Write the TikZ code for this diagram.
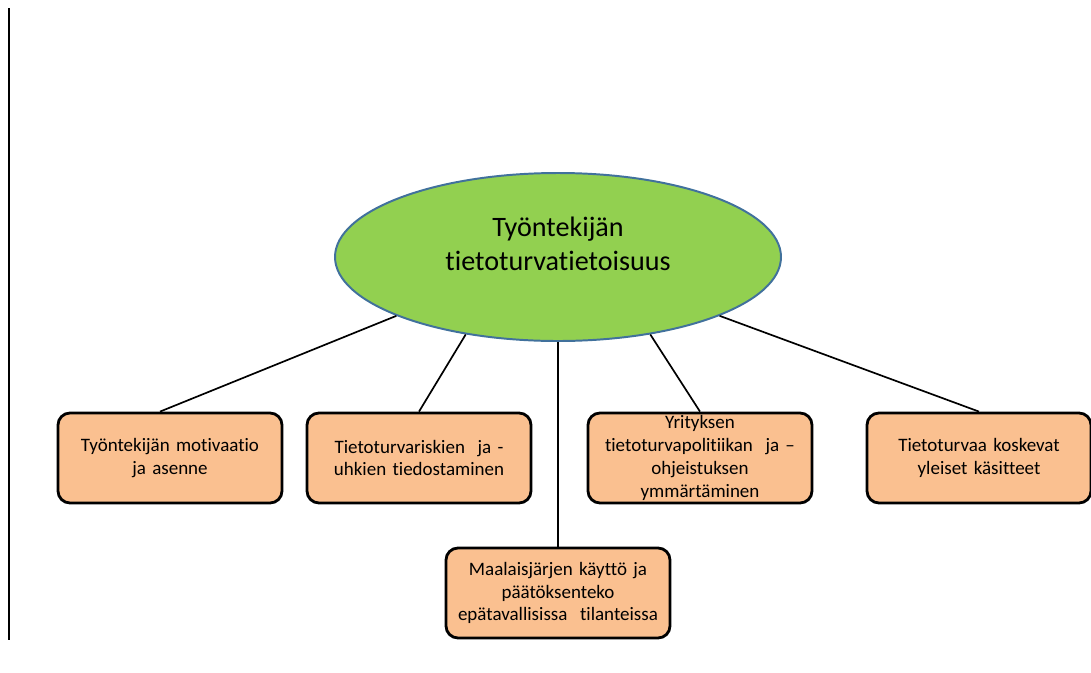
\documentclass[tikz,border=0pt]{standalone}
\usepackage{fontspec}
\setmainfont{Carlito}[Ligatures=NoCommon]
\usetikzlibrary{shapes.geometric,positioning}
\definecolor{topicgreen}{HTML}{92D050}
\definecolor{topicblue}{HTML}{41719C}
\definecolor{areaorange}{HTML}{FAC090}
\tikzset{
  topicellipse/.style={ellipse, draw=topicblue, line width=1.4pt, fill=topicgreen,
    minimum width=446*0.025cm, minimum height=168*0.025cm},
  topictext/.style={align=center, font=\fontsize{20}{24.4}\selectfont},
  areabox/.style={draw, line width=2pt, rounded corners=0.3cm, fill=areaorange,
    align=center, font=\fontsize{13.5}{16.2}\selectfont, inner sep=0pt,
    minimum width=224*0.025cm, minimum height=90*0.025cm, text width=214*0.025cm},
  arealine/.style={line width=1.2pt}
}
\begin{document}
\begin{tikzpicture}[x=0.025cm, y=-0.025cm]
    \useasboundingbox (0,0) rectangle (1091,672);
    \coordinate (margintop) at (9,8);
    \coordinate (marginbot) at (9,640);
    \draw[line width=0.8pt] (margintop) -- (marginbot);
    \node[topicellipse] (aware) at (558,257) {};
    \node[topictext] (awaretext) at (558,244) {Työntekijän\\tietoturvatietoisuus};
    \node[areabox] (motiv) at (170,458) {Työntekijän motivaatio\\ja asenne};
    \node[areabox] (risks) at (419,458) {Tietoturvariskien\ \ ja -\\uhkien tiedostaminen};
    \node[areabox] (policy) at (700,458) {Yrityksen\\tietoturvapolitiikan\ \ ja –\\ohjeistuksen\\ymmärtäminen};
    \node[areabox] (terms) at (979,458) {Tietoturvaa koskevat\\yleiset käsitteet};
    \node[areabox] (sense) at (558,593) {Maalaisjärjen käyttö ja\\päätöksenteko\\epätavallisissa\ \ tilanteissa};
    \draw[arealine] (aware.200) -- ([xshift=-10*0.025cm]motiv.north);
    \draw[arealine] (aware.220) -- (risks.north);
    \draw[arealine] (aware.south) -- (sense.north);
    \draw[arealine] (aware.320) -- (policy.north);
    \draw[arealine] (aware.340) -- (terms.north);
\end{tikzpicture}
\end{document}
